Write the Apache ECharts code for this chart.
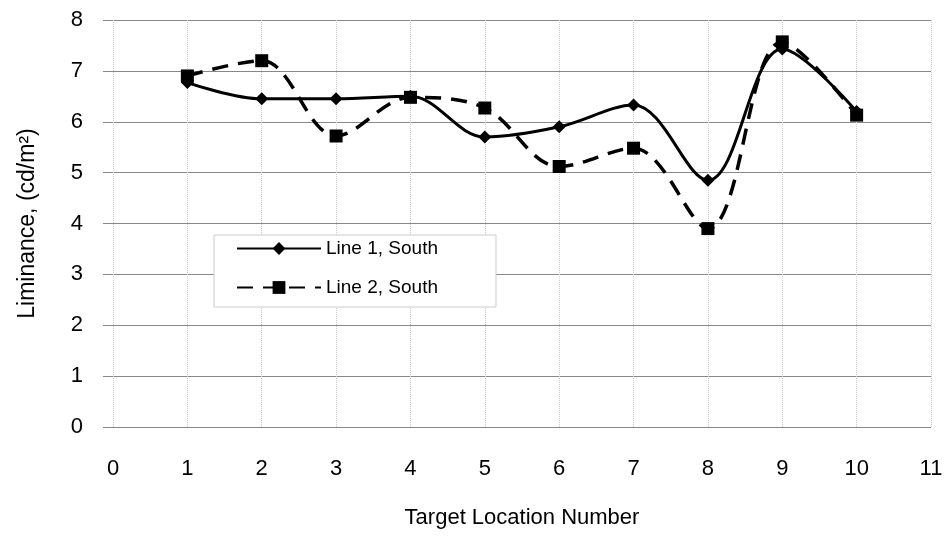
<!DOCTYPE html>
<html><head><meta charset="utf-8">
<script src="https://cdn.jsdelivr.net/npm/echarts@6/dist/echarts.min.js"></script>
<style>html,body{margin:0;padding:0;background:#fff}#c{width:952px;height:541px}</style>
</head><body><div id="c"></div>
<script>
const locations = [1, 2, 3, 4, 5, 6, 7, 8, 9, 10];
const line1South = [6.77, 6.45, 6.45, 6.5, 5.7, 5.9, 6.33, 4.85, 7.43, 6.2];
const line2South = [6.9, 7.2, 5.72, 6.48, 6.27, 5.12, 5.48, 3.9, 7.57, 6.13];
const seriesNames = ['Line 1, South', 'Line 2, South'];
const xTitle = 'Target Location Number';
const yTitle = 'Liminance, (cd/m\u00B2)';

const font = 'Liberation Sans, Arial, sans-serif';
const chart = echarts.init(document.getElementById('c'));
chart.setOption({
  animation: false,
  backgroundColor: '#fff',
  grid: { left: 113, right: 21, top: 20, bottom: 114 },
  legend: {
    orient: 'vertical', left: 214, top: 235,
    backgroundColor: '#fff', borderColor: '#ccc', borderWidth: 1,
    padding: [4, 58, 10, 22], itemGap: 20, itemWidth: 84, itemHeight: 16,
    textStyle: { fontFamily: font, fontSize: 19, color: '#000' },
    data: seriesNames
  },
  xAxis: {
    type: 'value', min: 0, max: 11, interval: 1,
    name: xTitle, nameLocation: 'middle', nameGap: 80,
    nameTextStyle: { fontFamily: font, fontSize: 22, color: '#000' },
    axisLine: { show: false }, axisTick: { show: false },
    axisLabel: { fontFamily: font, fontSize: 22, color: '#000', margin: 31 },
    splitLine: { show: true, lineStyle: { color: '#ccc', type: 'dotted', width: 1 } }
  },
  yAxis: {
    type: 'value', min: 0, max: 8, interval: 1,
    name: yTitle, nameLocation: 'middle', nameGap: 74,
    nameTextStyle: { fontFamily: font, fontSize: 23, color: '#000' },
    axisLine: { show: false },
    axisTick: { show: true, length: 10, lineStyle: { color: '#888' } },
    axisLabel: { fontFamily: font, fontSize: 22, color: '#000', margin: 30 },
    splitLine: { show: true, lineStyle: { color: '#888', width: 1 } }
  },
  series: [
    {
      name: seriesNames[0], type: 'line', smooth: 0.35,
      data: locations.map((x, i) => [x, line1South[i]]),
      symbol: 'diamond', symbolSize: 13,
      lineStyle: { color: '#000', width: 3 },
      itemStyle: { color: '#000' }
    },
    {
      name: seriesNames[1], type: 'line', smooth: 0.35,
      data: locations.map((x, i) => [x, line2South[i]]),
      symbol: 'rect', symbolSize: 13,
      lineStyle: { color: '#000', width: 3.5, type: [16, 10] },
      itemStyle: { color: '#000' }
    }
  ]
});
</script></body></html>
